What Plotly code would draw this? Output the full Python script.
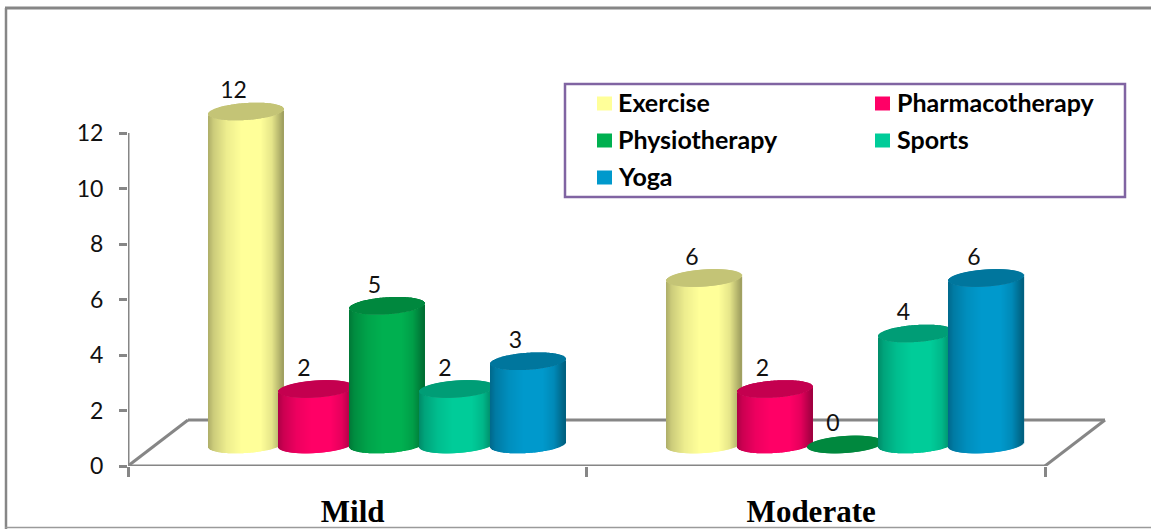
import numpy as np
import plotly.graph_objects as go

# Chart data
categories = ["Mild", "Moderate"]
series_names = ["Exercise", "Pharmacotherapy", "Physiotherapy", "Sports", "Yoga"]
exercise = [12, 6]
pharmacotherapy = [2, 2]
physiotherapy = [5, 0]
sports = [2, 4]
yoga = [3, 6]
y_ticks = [0, 2, 4, 6, 8, 10, 12]

series_values = [exercise, pharmacotherapy, physiotherapy, sports, yoga]
series_colors = ["#FFFF99", "#FF0066", "#00B050", "#00CC99", "#0099CC"]

# Figure and axis geometry, in pixels
W, H = 1151, 529
AX_LEFT, AX_RIGHT, AX_TOP, AX_BOTTOM = 128, 1110, 80, 466
PX_PER_GROUP = 458.5
PX_PER_UNIT = 27.75
GRAY = "#868686"
LATO = "Lato, Carlito, sans-serif"

# Oblique-projection constants for the cylinders, in data units
dx = 1 / PX_PER_GROUP
dy = 1 / PX_PER_UNIT
FLOOR_LIFT = 21.5 * dy
FIRST_CENTER = 118 * dx
CENTER_STEP = 70.5 * dx
HALF_WIDTH = 37.5 * dx
ELLIPSE_B = 8.5 * dy
ELLIPSE_TILT = 2.5 * dy

# Brightness across a cylinder face, from left edge to right edge
SHADE_U = [-1, -0.85, -0.5, -0.1, 0.4, 0.7, 1]
SHADE_K = [0.68, 0.8, 0.93, 1, 1, 0.9, 0.62]
CAP_K = 0.77


def scaled(hex_color, k):
    r, g, b = (int(hex_color[i:i + 2], 16) for i in (1, 3, 5))
    return f"rgb({r * k:.0f},{g * k:.0f},{b * k:.0f})"


fig = go.Figure()
u = np.linspace(-0.987, 0.987, 75)
round_part = ELLIPSE_B * np.sqrt(1 - u ** 2)
front = -round_part + ELLIPSE_TILT * u
back = round_part + ELLIPSE_TILT * u

label_x, label_y, label_text = [], [], []

# Each cylinder is a run of one-pixel bars: the body height is the value itself
for s, (name, vals, col) in enumerate(zip(series_names, series_values, series_colors)):
    xs, bases, heights, colors = [], [], [], []
    cap_x, cap_base, cap_h = [], [], []
    for g, v in enumerate(vals):
        center = g + FIRST_CENTER + s * CENTER_STEP
        strip_x = center + u * HALF_WIDTH
        xs.extend(strip_x)
        bases.extend(FLOOR_LIFT + front)
        heights.extend([v] * len(u))
        colors.extend(scaled(col, k) for k in np.interp(u, SHADE_U, SHADE_K))
        cap_x.extend(strip_x)
        cap_base.extend(FLOOR_LIFT + v + front)
        cap_h.extend(back - front)
        label_x.append(center - 12.5 * dx)
        label_y.append(FLOOR_LIFT + v + 19 * dy)
        label_text.append(str(v))
    strip_w = 1.3 * dx
    fig.add_trace(go.Bar(x=xs, y=heights, base=bases, width=strip_w, name=name,
                         marker=dict(color=colors, line=dict(width=0)),
                         hoverinfo="skip", showlegend=False))
    fig.add_trace(go.Bar(x=cap_x, y=cap_h, base=cap_base, width=strip_w, name=name,
                         marker=dict(color=scaled(col, CAP_K), line=dict(width=0)),
                         hoverinfo="skip", showlegend=False))

fig.add_trace(go.Scatter(x=label_x, y=label_y, text=label_text, mode="text",
                         textposition="middle center", cliponaxis=False,
                         textfont=dict(family=LATO, size=23, color="#111111"),
                         hoverinfo="skip", showlegend=False))

# Floor of the 3D box and the value axis line
depth_x, depth_y = 60 * dx, 46 * dy
floor_right = 917 * dx
axis_line = dict(color=GRAY, width=3)
for x0, y0, x1, y1 in [
    (0, 0, floor_right, 0),
    (0, 0, depth_x, depth_y),
    (floor_right, 0, floor_right + depth_x, depth_y),
    (depth_x, depth_y, floor_right + depth_x, depth_y),
    (0, 0, 0, 12),
]:
    fig.add_shape(type="line", x0=x0, y0=y0, x1=x1, y1=y1, xref="x", yref="y",
                  line=axis_line, layer="below")


def px(x):
    return x / W


def py(y):
    return 1 - y / H


# Outer chart frame
for x0, y0, x1, y1, c, w in [
    (5, 8, W, 8, GRAY, 3),
    (6, 8, 6, H, GRAY, 2.5),
    (5, 527.5, W, 527.5, "#9a9a9a", 1.5),
]:
    fig.add_shape(type="line", x0=px(x0), y0=py(y0), x1=px(x1), y1=py(y1),
                  xref="paper", yref="paper", line=dict(color=c, width=w))

# Legend box, laid out in two columns
fig.add_shape(type="rect", x0=px(565), y0=py(84), x1=px(1125), y1=py(197),
              xref="paper", yref="paper", line=dict(color="#8064A2", width=2.5),
              fillcolor="white", layer="above")
swatch_cols = [597, 875]
text_cols = [616, 895]
legend_rows = [103.5, 140.5, 177.5]
for i, (name, col) in enumerate(zip(series_names, series_colors)):
    lx = swatch_cols[i % 2]
    ly = legend_rows[i // 2]
    fig.add_shape(type="rect", x0=px(lx), y0=py(ly - 7), x1=px(lx + 15), y1=py(ly + 7),
                  xref="paper", yref="paper", line=dict(width=0), fillcolor=col, layer="above")
    fig.add_annotation(x=px(text_cols[i % 2]), y=py(ly - 1), xref="paper", yref="paper",
                       text=f"<b>{name}</b>", showarrow=False, xanchor="left", yanchor="middle",
                       font=dict(family=LATO, size=25, color="black"))

fig.update_layout(
    width=W, height=H, margin=dict(l=0, r=0, t=0, b=0, autoexpand=False),
    paper_bgcolor="white", plot_bgcolor="white", barmode="overlay", showlegend=False,
    xaxis=dict(
        domain=[AX_LEFT / W, AX_RIGHT / W], range=[0, (AX_RIGHT - AX_LEFT) * dx],
        tickmode="array", tickvals=[0.49, 1.49], ticktext=categories, ticks="",
        ticklabelstandoff=24, showgrid=False, zeroline=False, showline=False,
        tickfont=dict(family="Liberation Serif", size=31, color="black", weight="bold"),
        minor=dict(tickmode="array", tickvals=[0, 1, 2], ticks="outside", ticklen=10,
                   tickwidth=2.5, tickcolor=GRAY, showgrid=False),
    ),
    yaxis=dict(
        domain=[1 - AX_BOTTOM / H, 1 - AX_TOP / H], range=[0, (AX_BOTTOM - AX_TOP) * dy],
        tickmode="array", tickvals=y_ticks, ticks="outside", ticklen=8, tickwidth=2.5,
        ticklabelstandoff=11, tickcolor=GRAY, showgrid=False, zeroline=False, showline=False,
        tickfont=dict(family=LATO, size=23, color="#111111"),
    ),
)

fig.write_html("out.html")
